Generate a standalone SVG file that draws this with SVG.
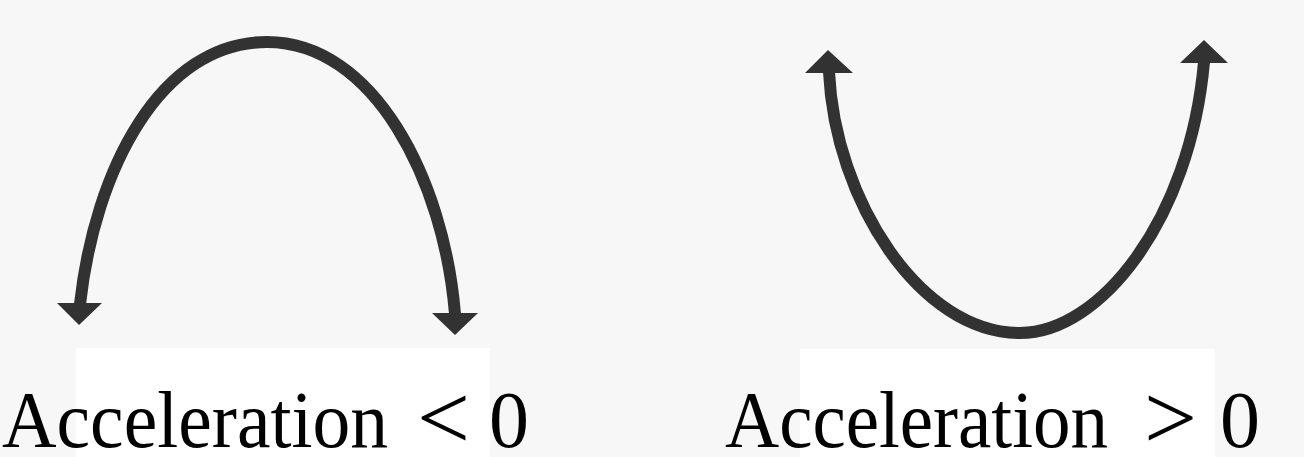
<svg xmlns="http://www.w3.org/2000/svg" width="1304" height="457" viewBox="0 0 1304 457">
  <style>
    .curve { fill: none; stroke: #323232; stroke-width: 12; stroke-linecap: butt; }
    .head { fill: #323232; stroke: none; }
    .lbl { font-family: "Liberation Serif", "DejaVu Serif", serif; font-size: 80px; fill: #000000; }
    .rel { font-size: 94px; }
    .pad { fill: #ffffff; }
  </style>
  <rect x="0" y="0" width="1304" height="457" fill="#f7f7f7"/>
  <g id="label-pads">
    <rect class="pad" x="76" y="348" width="414" height="109"/>
    <rect class="pad" x="800" y="349" width="415" height="108"/>
  </g>
  <g id="arch-negative">
    <path class="curve" d="M 80 304 C 95 170, 160 42, 267 42 C 374 42, 444 180, 455 314"/>
    <polygon class="head" points="57,303 102,303 79,325"/>
    <polygon class="head" points="432,313 478,313 455,335"/>
  </g>
  <g id="arch-positive">
    <path class="curve" d="M 829 72 C 835 200, 920 333, 1020 333 C 1100 333, 1190 220, 1204 62"/>
    <polygon class="head" points="805,73 853,73 828,50"/>
    <polygon class="head" points="1180,63 1228,63 1204,40"/>
  </g>
  <g id="label-negative">
    <text class="lbl" x="2" y="447"><tspan textLength="386" lengthAdjust="spacingAndGlyphs">Acceleration</tspan> <tspan class="rel" x="417" y="449">&lt;</tspan> <tspan x="489" y="447">0</tspan></text>
  </g>
  <g id="label-positive">
    <text class="lbl" x="725" y="447"><tspan textLength="383" lengthAdjust="spacingAndGlyphs">Acceleration</tspan> <tspan class="rel" x="1144" y="449">&gt;</tspan> <tspan x="1220" y="447">0</tspan></text>
  </g>
</svg>
